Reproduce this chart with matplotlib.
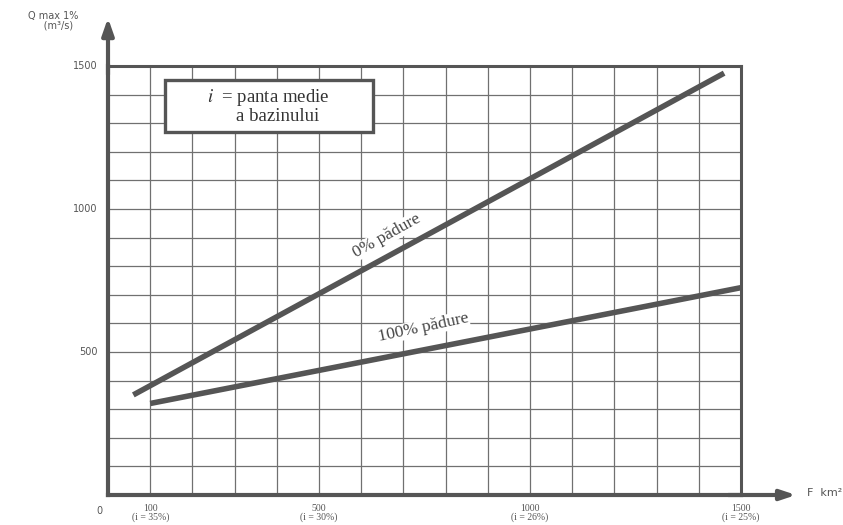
import matplotlib
matplotlib.use("Agg")
import matplotlib.pyplot as plt
from matplotlib.patches import Rectangle
import numpy as np

plt.rcParams["mathtext.fontset"] = "stix"

# Data
area_0 = [60, 1460]          # F km2, 0% forest line endpoints
q_0 = [350, 1475]            # Q max 1% m3/s
area_100 = [100, 1500]       # 100% forest line
q_100 = [320, 725]
x_label_vals = [100, 500, 1000, 1500]
x_label_slopes = ["35%", "30%", "26%", "25%"]
y_label_vals = [500, 1000, 1500]

ink = "#555555"
grid_c = "#707070"

fig = plt.figure(figsize=(8.43, 5.25), dpi=100)
ax = fig.add_axes([108/843, 1-495/525, (741-108)/843, (495-66)/525])
ax.set_xlim(0, 1500)
ax.set_ylim(0, 1500)

ax.set_xticks(np.arange(0, 1501, 100))
ax.set_yticks(np.arange(0, 1501, 100))
ax.tick_params(length=0, labelbottom=False, labelleft=False)
ax.grid(True, color=grid_c, lw=0.9)
for s in ax.spines.values():
    s.set_color(ink)
    s.set_linewidth(2.2)
ax.spines["left"].set_linewidth(3)
ax.spines["bottom"].set_linewidth(3)

ax.plot(area_0, q_0, color=ink, lw=4, solid_capstyle="butt", zorder=5)
ax.plot(area_100, q_100, color=ink, lw=4, solid_capstyle="butt", zorder=5)

serif = ["Liberation Serif", "DejaVu Serif"]

ax.text(660, 905, "0% pădure", rotation=29, fontsize=12.5, family=serif,
        color="#444444", ha="center", va="center", zorder=6,
        bbox=dict(facecolor="white", edgecolor="none", pad=0.3))
ax.text(748, 585, "100% pădure", rotation=12, fontsize=12.5, family=serif,
        color="#444444", ha="center", va="center", zorder=6,
        bbox=dict(facecolor="white", edgecolor="none", pad=0.3))

# note box
ax.add_patch(Rectangle((135, 1269), 493, 182, facecolor="white",
                       edgecolor=ink, lw=2.4, zorder=6))
ax.text(380, 1360, "$\\mathit{i}$  = panta medie\n    a bazinului", fontsize=13.5,
        family=serif, color="#333333", ha="center", va="center", zorder=7,
        linespacing=1.05)

# tick labels
for v in y_label_vals:
    ax.text(-25, v, str(v), ha="right", va="center", fontsize=7, color="#555555")
ax.text(-20, -40, "0", ha="center", va="top", fontsize=7, color="#555555")
for v, sl in zip(x_label_vals, x_label_slopes):
    ax.text(v, -30, f"{v}\n(i = {sl})", ha="center", va="top", fontsize=7,
            family=serif, color="#555555", linespacing=1.0)

# axis arrows
ax.annotate("", xy=(0, 1.112), xytext=(0, 0.98), xycoords="axes fraction",
            arrowprops=dict(arrowstyle="-|>,head_length=1.0,head_width=0.35",
                            color=ink, lw=3, shrinkA=0, shrinkB=0),
            annotation_clip=False)
ax.annotate("", xy=(1.087, 0), xytext=(0.98, 0), xycoords="axes fraction",
            arrowprops=dict(arrowstyle="-|>,head_length=0.9,head_width=0.3",
                            color=ink, lw=3, shrinkA=0, shrinkB=0),
            annotation_clip=False)

fig.text(807/843, 1-493/525, "F  km²", fontsize=8, color="#555555",
         ha="left", va="center")
fig.text(28/843, 1-21/525, "Q max 1%\n     (m³/s)", fontsize=7, color="#555555",
         ha="left", va="center", linespacing=1.0)

fig.savefig("out.png", dpi=100)
